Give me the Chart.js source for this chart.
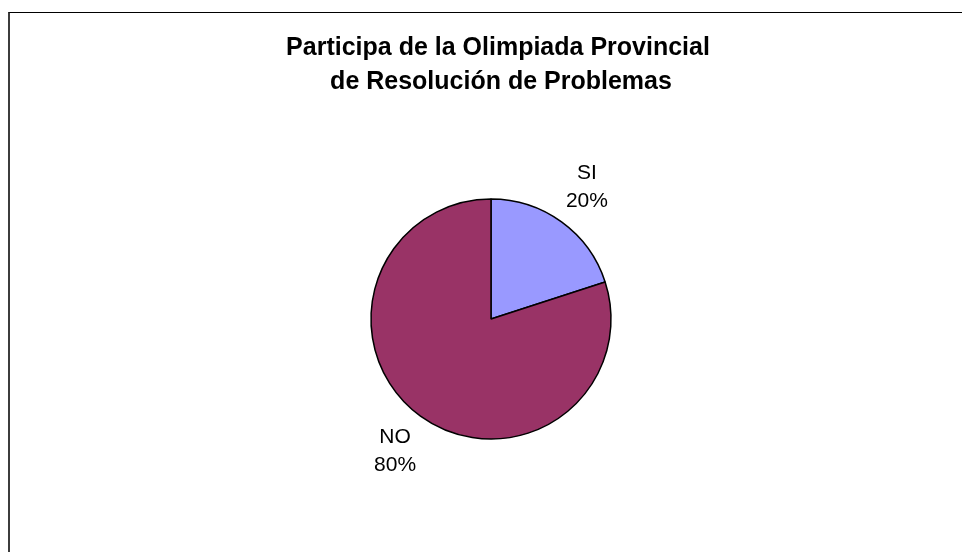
<!DOCTYPE html>
<html>
<head>
<meta charset="utf-8">
<script src="https://cdn.jsdelivr.net/npm/chart.js@4"></script>
<style>
  html, body { margin: 0; padding: 0; background: #fff; }
  #wrap { position: relative; width: 962px; height: 552px; }
  #frame { position: absolute; left: 8px; top: 12px; right: 0; bottom: 0;
           border-top: 1px solid #000; border-left: 2px solid #3c3c3c; }
  canvas { position: absolute; left: 0; top: 0; }
</style>
</head>
<body>
<div id="wrap">
  <div id="frame"></div>
  <canvas id="pieChart" width="962" height="552"></canvas>
</div>
<script>
const titleLines = ['Participa de la Olimpiada Provincial', 'de Resolución de Problemas'];
const categories = ['SI', 'NO'];
const values = [20, 80];
const sliceColors = ['#9999FF', '#993366'];

// title + "label / percent" next to each slice
const piePlugin = {
    id: 'pieText',
    afterDraw(chart) {
        const c = chart.ctx;
        c.save();
        c.fillStyle = '#000';
        c.textAlign = 'center';
        c.textBaseline = 'alphabetic';
        c.font = 'bold 25px "Liberation Sans", Arial, sans-serif';
        c.fillText(titleLines[0], 498, 55);
        c.fillText(titleLines[1], 501, 89);

        const total = values.reduce((a, b) => a + b, 0);
        c.font = '21px "Liberation Sans", Arial, sans-serif';
        c.textBaseline = 'middle';
        chart.getDatasetMeta(0).data.forEach((arc, i) => {
            const mid = (arc.startAngle + arc.endAngle) / 2;
            const r = arc.outerRadius * 1.36;
            const x = arc.x + Math.cos(mid) * r;
            const y = arc.y + Math.sin(mid) * r;
            const pct = Math.round(values[i] / total * 100) + '%';
            c.fillText(categories[i], x, y - 14);
            c.fillText(pct, x, y + 14);
        });
        c.restore();
    }
};

const ctx = document.getElementById('pieChart').getContext('2d');
const pieChart = new Chart(ctx, {
    type: 'pie',
    data: {
        labels: categories,
        datasets: [{
            data: values,
            backgroundColor: sliceColors,
            borderColor: '#000',
            borderWidth: 1.5,
            radius: 120
        }]
    },
    options: {
        responsive: false,
        animation: false,
        layout: {
            padding: { left: 20, right: 0, top: 100, bottom: 14 }
        },
        plugins: {
            legend: { display: false },
            tooltip: { enabled: false },
            title: { display: false }
        }
    },
    plugins: [piePlugin]
});
</script>
</body>
</html>
